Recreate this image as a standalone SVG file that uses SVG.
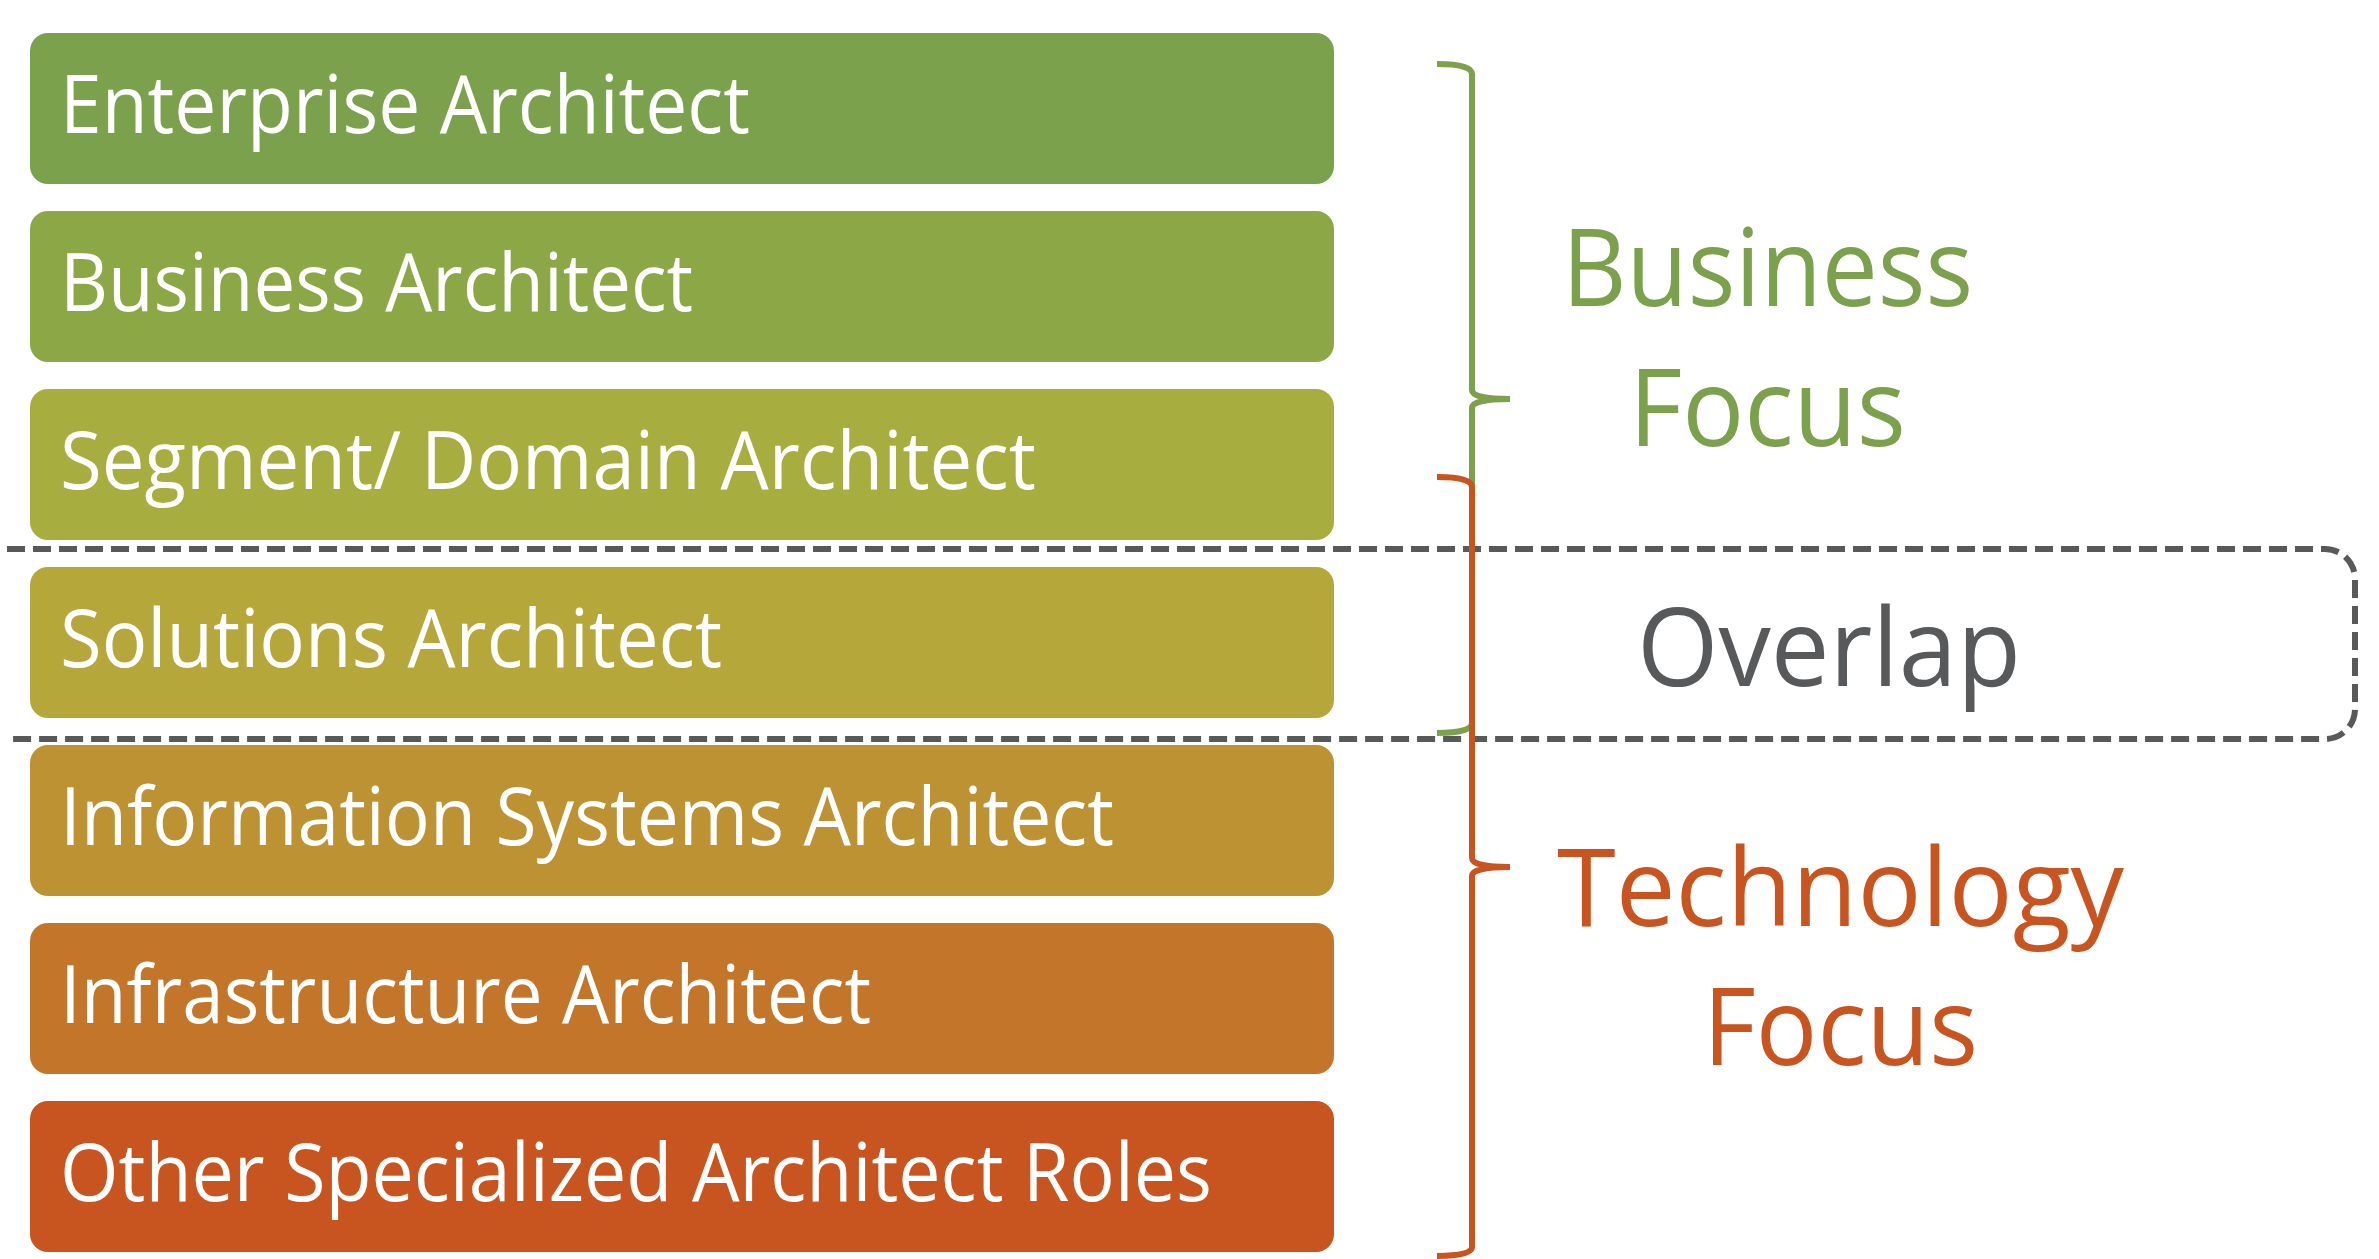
<svg xmlns="http://www.w3.org/2000/svg" width="2379" height="1259" viewBox="0 0 2379 1259">
  <style>
    .role rect { stroke: none; }
    .role text { font-family: "Open Sans", "Noto Sans", "Liberation Sans", sans-serif; font-size: 80px; fill: #ffffff; }
    .big { font-family: "Open Sans", "Noto Sans", "Liberation Sans", sans-serif; font-size: 108px; }
    .green { fill: #7ba14c; }
    .orange { fill: #c8541f; }
    .grey { fill: #58595b; }
    .brace { fill: none; stroke-width: 6; }
    .dash { fill: none; stroke: #58595b; stroke-width: 6; stroke-dasharray: 18 8; }
  </style>
  <rect width="2379" height="1259" fill="#ffffff"/>

  <!-- role bars -->
  <g id="enterprise-architect" class="role">
    <rect x="30" y="33" width="1304" height="151" rx="18" fill="#7ba14c"/>
    <text x="60" y="133" textLength="690" lengthAdjust="spacingAndGlyphs">Enterprise Architect</text>
  </g>
  <g id="business-architect" class="role">
    <rect x="30" y="211" width="1304" height="151" rx="18" fill="#8ca846"/>
    <text x="60" y="311" textLength="633" lengthAdjust="spacingAndGlyphs">Business Architect</text>
  </g>
  <g id="segment-domain-architect" class="role">
    <rect x="30" y="389" width="1304" height="151" rx="18" fill="#a7ad3f"/>
    <text x="60" y="489" textLength="976" lengthAdjust="spacingAndGlyphs">Segment/ Domain Architect</text>
  </g>
  <g id="solutions-architect" class="role">
    <rect x="30" y="567" width="1304" height="151" rx="18" fill="#b5a73a"/>
    <text x="60" y="667" textLength="662" lengthAdjust="spacingAndGlyphs">Solutions Architect</text>
  </g>
  <g id="information-systems-architect" class="role">
    <rect x="30" y="745" width="1304" height="151" rx="18" fill="#bc9232"/>
    <text x="60" y="845" textLength="1054" lengthAdjust="spacingAndGlyphs">Information Systems Architect</text>
  </g>
  <g id="infrastructure-architect" class="role">
    <rect x="30" y="923" width="1304" height="151" rx="18" fill="#c37629"/>
    <text x="60" y="1023" textLength="811" lengthAdjust="spacingAndGlyphs">Infrastructure Architect</text>
  </g>
  <g id="other-specialized-architect-roles" class="role">
    <rect x="30" y="1101" width="1304" height="151" rx="18" fill="#c8541f"/>
    <text x="60" y="1201" textLength="1152" lengthAdjust="spacingAndGlyphs">Other Specialized Architect Roles</text>
  </g>

  <!-- overlap band -->
  <g id="overlap">
    <path class="dash" d="M7,549 H2325 A30,30 0 0 1 2355,579 V709 A30,30 0 0 1 2325,739 H7"/>
    <text class="big grey" x="1637" y="686" textLength="384" lengthAdjust="spacingAndGlyphs">Overlap</text>
  </g>

  <!-- braces -->
  <g id="connectors">
    <path class="brace" stroke="#7ba14c" d="M1437,64 Q1472,64 1472,74 V390 Q1472,399 1510,399 Q1472,399 1472,408 V723 Q1472,733 1437,733"/>
    <path class="brace" stroke="#c8541f" d="M1437,477 Q1472,477 1472,487 V858 Q1472,867 1510,867 Q1472,867 1472,876 V1247 Q1472,1256 1437,1256"/>
  </g>

  <g id="business-focus">
    <text class="big green" x="1562" y="306" textLength="411" lengthAdjust="spacingAndGlyphs">Business</text>
    <text class="big green" x="1629" y="446" textLength="277" lengthAdjust="spacingAndGlyphs">Focus</text>
  </g>
  <g id="technology-focus">
    <text class="big orange" x="1557" y="926" textLength="567" lengthAdjust="spacingAndGlyphs">Technology</text>
    <text class="big orange" x="1703" y="1065" textLength="275" lengthAdjust="spacingAndGlyphs">Focus</text>
  </g>
</svg>
